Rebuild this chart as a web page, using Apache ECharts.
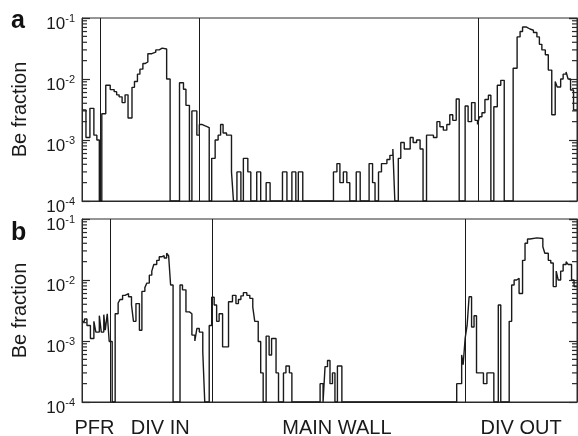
<!DOCTYPE html>
<html>
<head>
<meta charset="utf-8">
<title>Be fraction</title>
<script src="https://cdn.jsdelivr.net/npm/echarts@6.0.0/dist/echarts.min.js"></script>
<style>
  html, body { margin: 0; padding: 0; background: #fff; }
  #chart { width: 578px; height: 436px; }
</style>
</head>
<body>
<div id="chart"></div>
<script>
// poloidal position (% of wall length) where each histogram step starts, and its Be fraction (0 = none)
const aPos = [0, 0.8, 1.6, 2.4, 3.0, 3.5, 4.0, 4.8, 5.7, 6.5, 7.0, 7.5, 8.1, 8.7, 9.3, 10.1, 10.6, 11.2, 11.7, 12.3,
  12.8, 13.3, 14.1, 14.9, 15.6, 16.2, 16.6, 17.1, 17.8, 19.7, 20.5, 21.0, 21.7, 22.2, 23.2, 23.7, 24.2, 24.9, 25.7,
  26.2, 26.9, 27.5, 28.0, 28.5, 29.2, 30.2, 30.6, 31.3, 32.1, 32.6, 33.5, 34.1, 35.3, 36.1, 37.2, 38.0, 40.5, 41.4,
  42.4, 43.2, 43.7, 44.6, 50.8, 51.5, 52.1, 52.8, 53.5, 54.1, 55.4, 56.2, 58.0, 58.7, 59.2, 59.9, 60.5, 61.6, 62.2,
  62.8, 63.2, 63.9, 64.4, 65.1, 66.3, 66.9, 67.6, 68.3, 68.9, 69.6, 71.0, 71.7, 72.3, 73.0, 73.7, 74.3, 74.9, 75.6,
  76.2, 77.4, 78.0, 78.7, 79.4, 79.9, 80.3, 80.8, 81.4, 82.1, 82.6, 83.2, 83.9, 84.6, 85.3, 87.1, 87.9, 88.5, 89.0,
  89.8, 90.5, 91.2, 91.9, 92.4, 92.9, 93.6, 94.2, 94.9, 95.6, 96.0, 96.7, 97.2, 97.8, 98.2, 98.7, 99.3];
const aVal = [3.1e-3, 1.1e-3, 3.3e-3, 1.2e-3, 1.0e-3, 0, 2.7e-3, 7.9e-3, 6.7e-3, 6.2e-3, 5.5e-3, 5.1e-3, 4.1e-3, 5.5e-3,
  2.3e-3, 7.3e-3, 9.1e-3, 1.2e-2, 1.45e-2, 1.8e-2, 1.9e-2, 2.6e-2, 2.75e-2, 3.0e-2, 3.2e-2, 3.4e-2, 3.1e-2, 1.0e-2, 0,
  8.7e-3, 6.8e-3, 3.7e-3, 0, 3.0e-3, 1.2e-3, 1.8e-3, 1.7e-3, 1.6e-3, 0, 5e-4, 1.0e-3, 1.2e-3, 1.8e-3, 1.3e-3, 1.2e-3,
  3e-4, 0, 3e-4, 0, 5e-4, 3e-4, 0, 3e-4, 0, 2e-4, 0, 3e-4, 0, 3e-4, 0, 3e-4, 0, 3e-4, 4.1e-4, 2e-4, 3e-4, 2e-4, 0,
  3e-4, 0, 4.1e-4, 2e-4, 0, 3e-4, 4.1e-4, 4.8e-4, 5.6e-4, 7.1e-4, 0, 5e-4, 9.1e-4, 7.1e-4, 1.1e-3, 9.1e-4, 1.0e-3,
  7.1e-4, 0, 1.2e-3, 1.1e-3, 2.0e-3, 1.65e-3, 1.45e-3, 1.8e-3, 2.6e-3, 2.1e-3, 4.7e-3, 0, 3.6e-3, 2.0e-3, 4.1e-3,
  2.1e-3, 1.8e-3, 2.4e-3, 2.8e-3, 4.6e-3, 5.4e-3, 0, 3.5e-3, 7.9e-3, 9.5e-3, 0, 1.5e-2, 4.9e-2, 6.0e-2, 7.1e-2,
  6.6e-2, 6.3e-2, 5.8e-2, 4.9e-2, 3.7e-2, 3.0e-2, 2.5e-2, 1.4e-2, 2.6e-3, 9.1e-3, 7.4e-3, 1.0e-2, 1.2e-2, 1.3e-2,
  1.0e-2, 6.6e-3, 3.1e-3];

const bPos = [0, 0.5, 1.0, 1.7, 2.4, 2.8, 3.5, 3.9, 4.4, 4.7, 5.1, 5.5, 6.1, 6.7, 7.3, 7.7, 8.2, 8.7, 9.4, 10.0, 10.4,
  10.9, 11.6, 12.1, 12.7, 13.1, 13.6, 14.1, 14.5, 15.1, 15.6, 16.1, 16.6, 17.1, 17.5, 17.9, 18.4, 19.8, 20.3, 21.0,
  21.7, 22.2, 22.8, 23.2, 23.7, 24.4, 24.8, 25.7, 26.2, 26.7, 27.2, 27.7, 28.4, 29.6, 30.4, 31.1, 31.6, 32.1, 32.6,
  33.3, 33.9, 34.5, 34.9, 35.6, 36.1, 36.6, 37.2, 37.8, 38.3, 39.2, 39.7, 40.7, 41.2, 41.9, 42.4, 48.1, 48.7, 49.1,
  49.6, 50.1, 50.6, 51.1, 51.6, 52.5, 75.7, 76.7, 77.0, 77.4, 77.8, 78.2, 78.7, 79.2, 79.7, 81.1, 81.8, 83.2, 84.1,
  84.6, 86.3, 86.8, 87.3, 87.8, 88.3, 89.0, 89.5, 90.0, 90.5, 91.9, 93.1, 93.5, 94.2, 94.7, 95.2, 95.8, 96.2, 96.7,
  97.2, 97.8, 98.2, 98.9, 99.4];
const bVal = [2.1e-3, 2.3e-3, 1.8e-3, 1.1e-3, 2.1e-3, 1.4e-3, 2.6e-3, 1.4e-3, 2.7e-3, 1.5e-3, 2.8e-3, 9.8e-4, 0, 2.8e-3,
  4.2e-3, 4.8e-3, 5.6e-3, 6.0e-3, 5.3e-3, 3.9e-3, 2.1e-3, 4.1e-3, 1.5e-3, 6.5e-3, 7.5e-3, 8.9e-3, 1.2e-2, 1.4e-2,
  1.8e-2, 2.1e-2, 2.4e-2, 2.5e-2, 2.3e-2, 2.75e-2, 2.5e-2, 8.3e-3, 0, 8.3e-3, 6.9e-3, 3.0e-3, 2.8e-3, 1.25e-3, 1.0e-3,
  1.6e-3, 1.4e-3, 6.6e-4, 0, 1.8e-3, 5.2e-3, 3.9e-3, 2.1e-3, 2.8e-3, 8.0e-4, 4.4e-3, 5.6e-3, 4.1e-3, 4.8e-3, 5.5e-3,
  6.2e-3, 5.6e-3, 5.0e-3, 3.6e-3, 2.1e-3, 9.8e-4, 3.0e-4, 0, 1.2e-3, 5.9e-4, 1.1e-3, 3.0e-4, 0, 3e-4, 3.9e-4, 3e-4, 0,
  2e-4, 0, 3.8e-4, 4.8e-4, 2e-4, 3e-4, 0, 3.9e-4, 0, 2e-4, 5.9e-4, 4.1e-4, 1.1e-3, 1.8e-3, 5.3e-3, 1.7e-3, 2.6e-3,
  3e-4, 2e-4, 3e-4, 0, 3.9e-3, 0, 2.1e-3, 8.3e-3, 1.0e-2, 1.07e-2, 6.0e-3, 2.1e-2, 4.0e-2, 4.7e-2, 4.9e-2, 4.8e-2,
  3.5e-2, 2.75e-2, 2.1e-2, 1.9e-2, 7.8e-3, 1.4e-2, 1.0e-2, 1.4e-2, 1.8e-2, 2.0e-2, 1.8e-2, 1.0e-2, 7.8e-3];

// region boundaries (% of wall length)
const aBounds = [3.6, 23.7, 80.1];
const bBounds = [5.7, 26.4, 77.4];

// region names under the lower panel and their centres
const regionNames = ['PFR', 'DIV IN', 'MAIN WALL', 'DIV OUT'];
const regionCentres = [2.5, 15.8, 51.5, 88.7];

const panelLetters = ['a', 'b'];
const yTickExponents = [-4, -3, -2, -1];

const FONT = '"Liberation Sans", Arial, Helvetica, sans-serif';
const INK = '#1a1a1a';
const AXIS = '#2a2a2a';
const FLOOR = 1e-4;

function steps(pos, val) {
  const pts = pos.map((p, i) => [p, val[i] > 0 ? val[i] : FLOOR]);
  pts.push([100, pts[pts.length - 1][1]]);
  return pts;
}

// log minor ticks 2..9 in each decade
const minorVals = [];
yTickExponents.slice(0, 3).forEach(e => {
  for (let k = 2; k <= 9; k++) minorVals.push(k * Math.pow(10, e));
});

const grids = [
  { left: 82, top: 18, width: 495, height: 183 },
  { left: 82, top: 219, width: 495, height: 183 }
];

function yAxisFor(gridIndex, side) {
  const ax = {
    type: 'log',
    logBase: 10,
    gridIndex: gridIndex,
    position: side,
    min: FLOOR,
    max: 1e-1,
    splitLine: { show: false },
    axisLine: { show: true, lineStyle: { color: AXIS, width: 1 } },
    axisTick: { show: true, inside: true, length: 8, lineStyle: { color: AXIS, width: 1.2 } },
    axisLabel: { show: false }
  };
  if (side === 'left') {
    ax.name = 'Be fraction';
    ax.nameLocation = 'middle';
    ax.nameGap = 52;
    ax.nameTextStyle = { fontFamily: FONT, fontSize: 20, color: INK };
    ax.axisLabel = {
      show: true,
      margin: 7,
      padding: [10, 0, 0, 0],
      formatter: v => '{b|10}{s|' + Math.round(Math.log10(v)) + '}',
      rich: {
        b: { fontFamily: FONT, fontSize: 17, color: INK, lineHeight: 20, verticalAlign: 'bottom' },
        s: { fontFamily: FONT, fontSize: 11, color: INK, lineHeight: 11, verticalAlign: 'top' }
      }
    };
  }
  return ax;
}

// short inside tick marks at 2..9 x 10^n, placed through the log axis
function minorTicks(gridIndex, yIndex, x, dir) {
  return {
    type: 'custom',
    xAxisIndex: gridIndex,
    yAxisIndex: yIndex,
    data: minorVals.map(v => [x, v]),
    clip: false,
    silent: true,
    animation: false,
    z: 5,
    renderItem: (params, api) => {
      const p = api.coord([api.value(0), api.value(1)]);
      return {
        type: 'line',
        shape: { x1: p[0], y1: p[1], x2: p[0] + dir * 5, y2: p[1] },
        style: { stroke: AXIS, lineWidth: 1.2 }
      };
    }
  };
}

function histogram(gridIndex, pos, val, bounds) {
  return {
    type: 'line',
    xAxisIndex: gridIndex,
    yAxisIndex: gridIndex * 2,
    step: 'end',
    data: steps(pos, val),
    showSymbol: false,
    animation: false,
    lineStyle: { color: INK, width: 1.4 },
    markLine: {
      silent: true,
      symbol: 'none',
      label: { show: false },
      lineStyle: { color: INK, width: 1, type: 'solid' },
      data: bounds.map(b => ({ xAxis: b }))
    }
  };
}

const chart = echarts.init(document.getElementById('chart'), null, { renderer: 'canvas' });

chart.setOption({
  animation: false,
  backgroundColor: '#fff',
  title: panelLetters.map((t, i) => ({
    text: t,
    left: 11,
    top: i === 0 ? 9 : 221,
    padding: 0,
    textStyle: { fontFamily: FONT, fontSize: 25, fontWeight: 'bold', color: '#111' }
  })),
  grid: grids.map(g => Object.assign({ show: true, borderColor: AXIS, borderWidth: 1 }, g)),
  xAxis: grids.map((g, i) => ({
    type: 'value',
    gridIndex: i,
    min: 0,
    max: 100,
    axisLine: { show: true, onZero: false, lineStyle: { color: AXIS } },
    axisTick: { show: false },
    axisLabel: { show: false },
    splitLine: { show: false }
  })),
  yAxis: [yAxisFor(0, 'left'), yAxisFor(0, 'right'), yAxisFor(1, 'left'), yAxisFor(1, 'right')],
  series: [
    histogram(0, aPos, aVal, aBounds),
    histogram(1, bPos, bVal, bBounds),
    minorTicks(0, 0, 0, 1),
    minorTicks(0, 1, 100, -1),
    minorTicks(1, 2, 0, 1),
    minorTicks(1, 3, 100, -1)
  ]
});

chart.setOption({
  graphic: regionNames.map((n, i) => ({
    type: 'text',
    x: chart.convertToPixel({ xAxisIndex: 1 }, regionCentres[i]),
    y: 428,
    style: {
      text: n,
      font: '20px ' + FONT,
      fill: INK,
      textAlign: 'center',
      textVerticalAlign: 'middle'
    }
  }))
});
</script>
</body>
</html>
